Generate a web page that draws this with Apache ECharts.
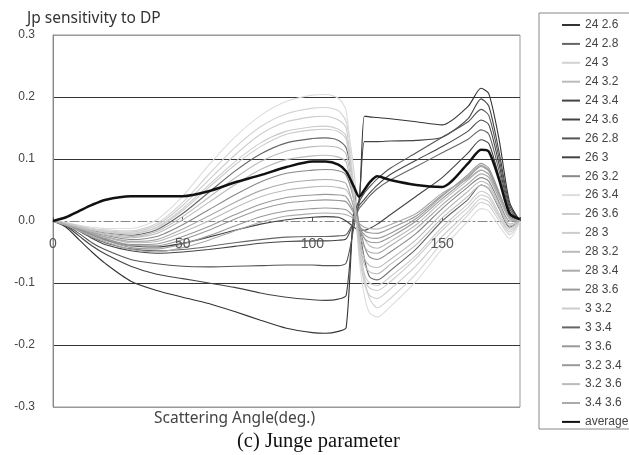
<!DOCTYPE html>
<html>
<head>
<meta charset="utf-8">
<script src="https://cdn.jsdelivr.net/npm/echarts@6/dist/echarts.min.js"></script>
<style>
html, body { margin: 0; padding: 0; background: #fff; }
#chart { width: 629px; height: 455px; }
</style>
</head>
<body>
<div id="chart"></div>
<script>
// scattering angle (deg.)
var angles = [0, 5, 10, 15, 20, 30, 40, 50, 60, 70, 80, 90, 100, 105, 110, 113, 116, 118, 120, 122, 125, 130, 140, 150, 160, 165, 168, 172, 176, 180];

var xTicks = [0, 50, 100, 150];
var yTicks = ['0.3', '0.2', '0.1', '0.0', '-0.1', '-0.2', '-0.3'];

var d24_26 = [0, -0.01, -0.03, -0.05, -0.068, -0.097, -0.112, -0.123, -0.133, -0.146, -0.16, -0.173, -0.18, -0.181, -0.178, -0.172, 0.02, 0.03, 0.169, 0.168, 0.167, 0.165, 0.16, 0.155, 0.185, 0.214, 0.205, 0.13, 0.03, 0];
var d24_28 = [0, -0.004, -0.01, -0.015, -0.019, -0.023, -0.014, 0.012, 0.046, 0.08, 0.108, 0.126, 0.133, 0.134, 0.13, 0.118, 0.055, -0.01, -0.06, -0.09, -0.095, -0.08, -0.045, 0.0, 0.035, 0.058, 0.052, 0.02, -0.01, 0];
var d24_3 = [0, -0.003, -0.008, -0.012, -0.014, -0.016, -0.004, 0.03, 0.075, 0.118, 0.152, 0.173, 0.182, 0.183, 0.178, 0.16, 0.08, -0.02, -0.09, -0.125, -0.14, -0.125, -0.085, -0.035, 0.01, 0.03, 0.025, 0.0, -0.022, 0];
var d24_32 = [0, -0.006, -0.013, -0.02, -0.026, -0.035, -0.033, -0.018, 0.0, 0.021, 0.039, 0.05, 0.055, 0.056, 0.054, 0.05, 0.025, -0.004, -0.028, -0.04, -0.044, -0.033, -0.006, 0.032, 0.066, 0.082, 0.075, 0.04, 0.005, 0];
var d24_34 = [0, -0.006, -0.016, -0.028, -0.038, -0.048, -0.052, -0.05, -0.046, -0.041, -0.036, -0.033, -0.032, -0.032, -0.031, -0.029, 0.0, 0.025, 0.035, 0.045, 0.058, 0.075, 0.098, 0.12, 0.145, 0.163, 0.155, 0.09, 0.015, 0];
var d24_36 = [0, -0.008, -0.024, -0.04, -0.053, -0.073, -0.086, -0.093, -0.1, -0.107, -0.116, -0.123, -0.127, -0.128, -0.126, -0.12, 0.01, 0.035, 0.128, 0.128, 0.128, 0.129, 0.13, 0.135, 0.165, 0.197, 0.185, 0.11, 0.025, 0];
var d26_28 = [0, -0.007, -0.02, -0.035, -0.046, -0.062, -0.069, -0.073, -0.074, -0.073, -0.072, -0.071, -0.071, -0.072, -0.072, -0.068, -0.01, 0.03, 0.045, 0.055, 0.068, 0.085, 0.11, 0.135, 0.16, 0.18, 0.17, 0.1, 0.02, 0];
var d26_3 = [0, -0.005, -0.013, -0.022, -0.03, -0.04, -0.042, -0.036, -0.026, -0.015, -0.005, 0.002, 0.006, 0.007, 0.006, 0.0, -0.01, -0.015, -0.015, -0.012, -0.005, 0.01, 0.04, 0.07, 0.11, 0.131, 0.125, 0.07, 0.01, 0];
var d26_32 = [0, -0.005, -0.012, -0.018, -0.023, -0.03, -0.025, -0.006, 0.018, 0.042, 0.063, 0.077, 0.082, 0.083, 0.081, 0.074, 0.035, -0.005, -0.04, -0.058, -0.062, -0.05, -0.02, 0.02, 0.055, 0.07, 0.064, 0.03, 0.0, 0];
var d26_34 = [0, -0.003, -0.007, -0.01, -0.012, -0.012, 0.002, 0.04, 0.09, 0.135, 0.17, 0.193, 0.203, 0.204, 0.198, 0.178, 0.05, -0.06, -0.12, -0.148, -0.155, -0.138, -0.097, -0.045, 0.0, 0.02, 0.016, -0.008, -0.028, 0];
var d26_36 = [0, -0.004, -0.009, -0.014, -0.018, -0.021, -0.011, 0.017, 0.054, 0.09, 0.12, 0.14, 0.147, 0.148, 0.144, 0.132, 0.04, -0.04, -0.085, -0.1, -0.104, -0.09, -0.055, -0.01, 0.028, 0.048, 0.042, 0.012, -0.012, 0];
var d28_3 = [0, -0.003, -0.008, -0.013, -0.016, -0.018, -0.007, 0.025, 0.066, 0.106, 0.14, 0.16, 0.168, 0.169, 0.163, 0.15, 0.045, -0.05, -0.1, -0.12, -0.125, -0.11, -0.072, -0.025, 0.015, 0.036, 0.031, 0.005, -0.018, 0];
var d28_32 = [0, -0.004, -0.01, -0.016, -0.02, -0.025, -0.017, 0.007, 0.038, 0.069, 0.096, 0.113, 0.12, 0.121, 0.118, 0.108, 0.035, -0.03, -0.07, -0.082, -0.085, -0.07, -0.038, 0.005, 0.04, 0.058, 0.052, 0.022, -0.008, 0];
var d28_34 = [0, -0.005, -0.012, -0.019, -0.025, -0.033, -0.03, -0.013, 0.008, 0.03, 0.049, 0.061, 0.066, 0.067, 0.065, 0.06, 0.02, -0.02, -0.042, -0.05, -0.052, -0.04, -0.012, 0.026, 0.06, 0.076, 0.07, 0.036, 0.003, 0];
var d28_36 = [0, -0.006, -0.014, -0.021, -0.028, -0.038, -0.037, -0.025, -0.009, 0.01, 0.027, 0.038, 0.042, 0.043, 0.042, 0.039, 0.015, -0.012, -0.028, -0.034, -0.035, -0.026, 0.0, 0.036, 0.07, 0.088, 0.08, 0.043, 0.006, 0];
var d3_32 = [0, -0.004, -0.009, -0.014, -0.017, -0.02, -0.01, 0.02, 0.058, 0.095, 0.126, 0.145, 0.152, 0.153, 0.148, 0.137, 0.04, -0.045, -0.092, -0.108, -0.112, -0.098, -0.06, -0.015, 0.022, 0.042, 0.037, 0.008, -0.015, 0];
var d3_34 = [0, -0.006, -0.015, -0.026, -0.035, -0.045, -0.048, -0.046, -0.041, -0.035, -0.03, -0.026, -0.025, -0.025, -0.024, -0.022, 0.0, 0.02, 0.03, 0.04, 0.052, 0.066, 0.088, 0.11, 0.132, 0.147, 0.14, 0.08, 0.012, 0];
var d3_36 = [0, -0.006, -0.014, -0.022, -0.029, -0.04, -0.04, -0.03, -0.015, 0.003, 0.019, 0.029, 0.033, 0.034, 0.033, 0.031, 0.012, -0.01, -0.022, -0.027, -0.028, -0.02, 0.004, 0.04, 0.075, 0.093, 0.085, 0.046, 0.007, 0];
var d32_34 = [0, -0.007, -0.015, -0.023, -0.031, -0.043, -0.045, -0.037, -0.024, -0.008, 0.007, 0.016, 0.02, 0.021, 0.02, 0.018, 0.006, -0.008, -0.016, -0.019, -0.02, -0.012, 0.008, 0.042, 0.072, 0.09, 0.082, 0.043, 0.006, 0];
var d32_36 = [0, -0.005, -0.011, -0.017, -0.022, -0.027, -0.02, 0.002, 0.03, 0.058, 0.083, 0.099, 0.105, 0.106, 0.103, 0.095, 0.03, -0.025, -0.06, -0.072, -0.075, -0.062, -0.03, 0.012, 0.048, 0.064, 0.058, 0.026, -0.005, 0];
var d34_36 = [0, -0.007, -0.016, -0.025, -0.033, -0.046, -0.05, -0.043, -0.031, -0.016, -0.002, 0.008, 0.012, 0.013, 0.012, 0.01, 0.004, -0.004, -0.01, -0.012, -0.013, -0.006, 0.012, 0.045, 0.068, 0.082, 0.075, 0.04, 0.005, 0];
var average = [0, 0.006, 0.016, 0.026, 0.034, 0.04, 0.04, 0.04, 0.048, 0.062, 0.074, 0.087, 0.096, 0.096, 0.091, 0.08, 0.055, 0.039, 0.05, 0.062, 0.072, 0.066, 0.058, 0.055, 0.093, 0.115, 0.112, 0.066, 0.012, 0.003];

var seriesNames = ['24 2.6', '24 2.8', '24 3', '24 3.2', '24 3.4', '24 3.6', '26 2.8', '26 3', '26 3.2', '26 3.4', '26 3.6',
    '28 3', '28 3.2', '28 3.4', '28 3.6', '3 3.2', '3 3.4', '3 3.6', '3.2 3.4', '3.2 3.6', '3.4 3.6', 'average'];
var seriesValues = [d24_26, d24_28, d24_3, d24_32, d24_34, d24_36, d26_28, d26_3, d26_32, d26_34, d26_36,
    d28_3, d28_32, d28_34, d28_36, d3_32, d3_34, d3_36, d32_34, d32_36, d34_36, average];
var seriesColors = ['#333', '#666', '#d2d2d2', '#bbb', '#444', '#444', '#555', '#444', '#888', '#ddd', '#ccc',
    '#ccc', '#bbb', '#aaa', '#999', '#ccc', '#666', '#999', '#999', '#bbb', '#aaa', '#111'];

var series = [];
for (var k = 0; k < seriesNames.length; k++) {
    var vals = seriesValues[k];
    var isAvg = k === seriesNames.length - 1;
    series.push({
        name: seriesNames[k],
        type: 'line',
        symbol: 'none',
        smooth: 0.25,
        z: isAvg ? 5 : 2,
        lineStyle: {color: seriesColors[k], width: isAvg ? 2.5 : 1.1},
        itemStyle: {color: seriesColors[k]},
        data: angles.map(function (a, i) { return [a, vals[i]]; })
    });
}

var chart = echarts.init(document.getElementById('chart'));
chart.setOption({
    animation: false,
    backgroundColor: '#fff',
    grid: {left: 53, top: 35, right: 109, bottom: 48, show: true, borderColor: '#999', borderWidth: 1},
    xAxis: {
        type: 'value', min: 0, max: 180, interval: 50,
        axisLine: {onZero: true, lineStyle: {color: '#888', width: 1.2, type: [9, 3, 2, 3]}},
        axisTick: {inside: true, length: 4, lineStyle: {color: '#555'}},
        axisLabel: {show: false},
        splitLine: {show: false}
    },
    yAxis: {
        type: 'value', min: -0.3, max: 0.3, interval: 0.1,
        axisLine: {show: true, lineStyle: {color: '#888'}},
        axisTick: {show: false},
        axisLabel: {
            margin: 18, fontSize: 12, color: '#444', fontFamily: 'Liberation Sans',
            formatter: function (v) { return yTicks[Math.round((0.3 - v) * 10)]; }
        },
        splitLine: {lineStyle: {color: ['#999', '#333', '#333', 'rgba(0,0,0,0)', '#333', '#333', '#999'], width: 1}}
    },
    legend: {
        orient: 'vertical', left: 556, top: 13,
        itemWidth: 18, itemHeight: 14, itemGap: 4.9,
        itemStyle: {opacity: 0},
        textStyle: {fontSize: 12, color: '#444', fontFamily: 'Liberation Sans', lineHeight: 14},
        data: seriesNames
    },
    series: series
});

// tick labels of the angle axis sit just under the zero line
var graphics = [
    {type: 'rect', shape: {x: 539, y: 13, width: 120, height: 416}, style: {fill: 'none', stroke: '#888', lineWidth: 1}, z: 1},
    {type: 'text', left: 27, top: 11, style: {text: 'Jp sensitivity to DP', fontSize: 15.5, fill: '#333', fontFamily: 'Noto Sans'}},
    {type: 'text', left: 154, top: 411, style: {text: 'Scattering Angle(deg.)', fontSize: 15.5, fill: '#444', fontFamily: 'Noto Sans'}},
    {type: 'text', left: 237, top: 431, style: {text: '(c) Junge parameter', fontSize: 20.5, fill: '#111', fontFamily: 'Liberation Serif'}}
];
xTicks.forEach(function (t) {
    var p = chart.convertToPixel({gridIndex: 0}, [t, 0]);
    graphics.push({
        type: 'text', x: p[0], y: p[1] + 16, z: 10,
        style: {text: String(t), fontSize: 14, fill: '#555', fontFamily: 'Liberation Sans', align: 'center', verticalAlign: 'top'}
    });
});
chart.setOption({graphic: graphics});
</script>
</body>
</html>
